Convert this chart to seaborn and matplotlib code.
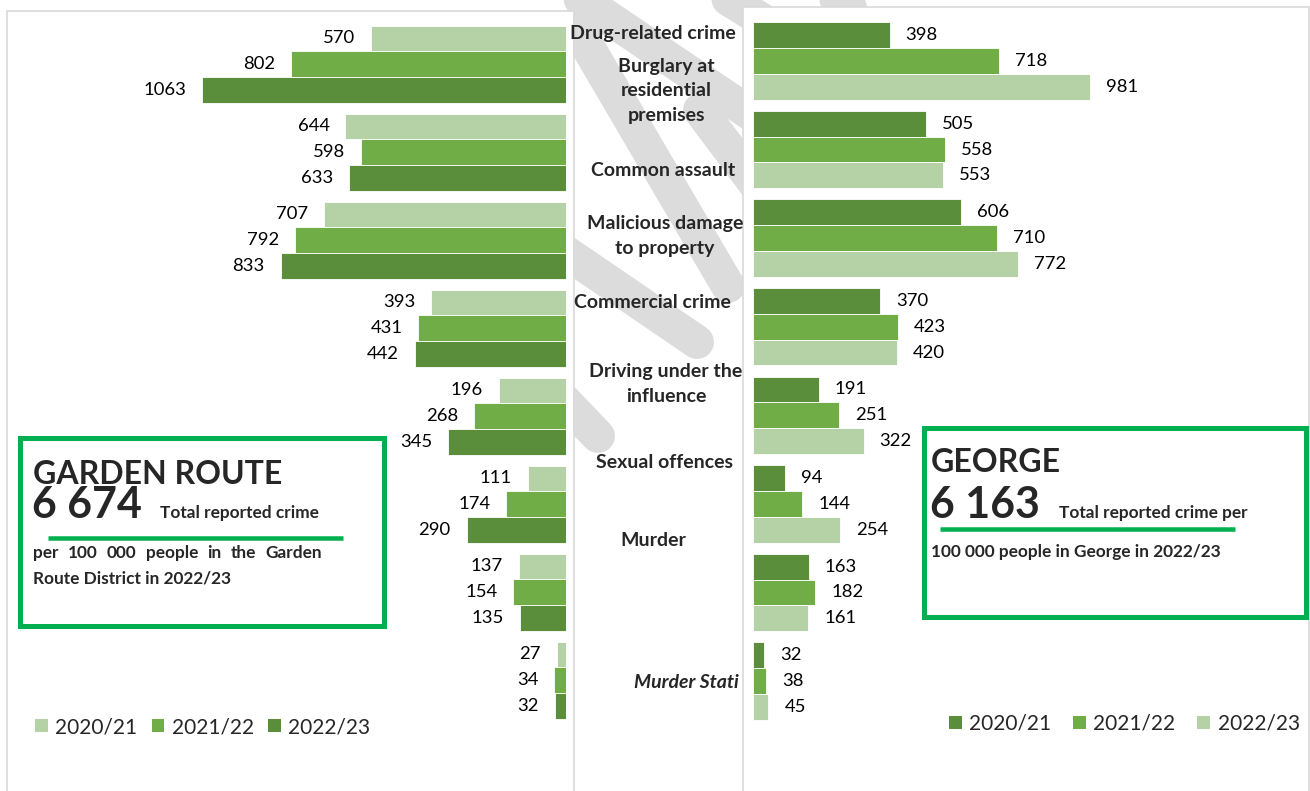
import numpy as np
import pandas as pd
import matplotlib
matplotlib.use("Agg")
import matplotlib.pyplot as plt
import seaborn as sns
from matplotlib.patches import Rectangle, Patch
from matplotlib.lines import Line2D

# ---------------- data ----------------
categories = ["Drug-related crime", "Burglary at residential premises", "Common assault",
              "Malicious damage to property", "Commercial crime", "Driving under the influence",
              "Sexual offences", "Murder"]
years = ["2020/21", "2021/22", "2022/23"]
garden_2020 = [570, 644, 707, 393, 196, 111, 137, 27]
garden_2021 = [802, 598, 792, 431, 268, 174, 154, 34]
garden_2022 = [1063, 633, 833, 442, 345, 290, 135, 32]
george_2020 = [398, 505, 606, 370, 191, 94, 163, 32]
george_2021 = [718, 558, 710, 423, 251, 144, 182, 38]
george_2022 = [981, 553, 772, 420, 322, 254, 161, 45]
axis_labels = ["Drug-related crime", "Burglary at\nresidential\npremises", "Common assault",
               "Malicious damage\nto property", "Commercial crime", "Driving under the\ninfluence",
               "Sexual offences", "Murder", "Murder Stati"]
garden_total = "6 674"
george_total = "6 163"

# ---------------- style ----------------
sns.set_theme(style="white")
plt.rcParams["font.family"] = ["Lato", "DejaVu Sans"]

W, H = 1310, 791
DARK, MID, LIGHT = "#5B8E3A", "#70AD47", "#B5D1A6"
GREEN = "#00B050"
GREY = "#D9D9D9"
WM = "#DCDCDC"

def fx(x):
    return x / W

def fy(y):
    return 1 - y / H

fig = plt.figure(figsize=(W / 100, H / 100), dpi=100)
fig.patch.set_facecolor("white")

# ---------------- watermark (behind panels) ----------------
wm_segments = [((545, -25), (760, 120)), ((575, 25), (728, 286)), ((530, 228), (697, 342)),
               ((530, 365), (598, 436)), ((690, -25), (770, 25)), ((800, -25), (850, 8)),
               ((700, 110), (760, 190))]
for (x0, y0), (x1, y1) in wm_segments:
    fig.add_artist(Line2D([fx(x0), fx(x1)], [fy(y0), fy(y1)], transform=fig.transFigure,
                          color=WM, lw=34 * 0.72, solid_capstyle="round", zorder=-3))

# ---------------- panels ----------------
for (x0, y0, x1) in [(6.5, 11, 573.5), (742.5, 7, 1309)]:
    fig.add_artist(Rectangle((fx(x0), fy(820)), fx(x1) - fx(x0), (820 - y0) / H,
                             transform=fig.transFigure, facecolor="white",
                             edgecolor=GREY, lw=1.2, zorder=-1))

def long_df(a, b, c):
    rows = []
    for yr, vals in zip(years, [a, b, c]):
        for cat, v in zip(categories, vals):
            rows.append({"category": cat, "year": yr, "value": v})
    return pd.DataFrame(rows)

PXU_L = 0.3424
PXU_R = 0.3432

# left axes: bars grow to the left, zero at x=566
axL_top, axL_bot = 64 - 44, 64 + 88 * 7 + 44
axL = fig.add_axes([fx(16), fy(axL_bot), fx(566) - fx(16), (axL_bot - axL_top) / H])
sns.barplot(data=long_df(garden_2020, garden_2021, garden_2022), y="category", x="value",
            hue="year", hue_order=years, order=categories, palette=[LIGHT, MID, DARK],
            orient="h", width=0.875, saturation=1, edgecolor="white", linewidth=0.6,
            legend=False, ax=axL)
axL.set_xlim(550 / PXU_L, 0)
axL.set_ylim(7.5, -0.5)

# right axes: zero at x=753
axR_top, axR_bot = 61 - 44.3, 61 + 88.57 * 7.5
axR = fig.add_axes([fx(753), fy(axR_bot), fx(1300) - fx(753), (axR_bot - axR_top) / H])
sns.barplot(data=long_df(george_2020, george_2021, george_2022), y="category", x="value",
            hue="year", hue_order=years, order=categories, palette=[DARK, MID, LIGHT],
            orient="h", width=0.875, saturation=1, edgecolor="white", linewidth=0.6,
            legend=False, ax=axR)
axR.set_xlim(0, 547 / PXU_R)
axR.set_ylim(7.5, -0.5)

for ax, sign, ha in [(axL, -1, "right"), (axR, 1, "left")]:
    ax.set_axis_off()
    for cont in ax.containers:
        for rect, val in zip(cont.patches, cont.datavalues):
            ax.annotate(f"{val:.0f}", xy=(rect.get_x() + rect.get_width(),
                                          rect.get_y() + rect.get_height() / 2),
                        xytext=(sign * 11.5, 0), textcoords="offset points",
                        ha=ha, va="center", fontsize=13.3, color="black")

# ---------------- category labels in the middle ----------------
label_pos = [(653, 33), (666, 91), (663, 170), (665, 236), (652, 303), (666, 384),
             (665, 462), (653, 540), (686, 682)]
for i, (txt, (x, y)) in enumerate(zip(axis_labels, label_pos)):
    fig.text(fx(x), fy(y), txt, ha="center", va="center", multialignment="center",
             fontsize=14, fontweight="bold", linespacing=1.55,
             fontstyle="italic" if i == len(axis_labels) - 1 else "normal")

# ---------------- legends ----------------
def legend(colors, x, y, colsp):
    handles = [Patch(facecolor=c, edgecolor="none") for c in colors]
    fig.legend(handles, years, loc="center left", bbox_to_anchor=(fx(x), fy(y)),
               ncol=3, frameon=False, fontsize=15, handlelength=0.62, handleheight=0.62,
               handletextpad=0.35, columnspacing=colsp, borderpad=0, borderaxespad=0)

legend([LIGHT, MID, DARK], 35, 727, 0.68)
legend([DARK, MID, LIGHT], 949, 724, 1.05)

# ---------------- info boxes ----------------
def box(x0, y0, x1, y1):
    fig.add_artist(Rectangle((fx(x0), fy(y1)), fx(x1) - fx(x0), (y1 - y0) / H,
                             transform=fig.transFigure, fill=False, edgecolor=GREEN,
                             lw=5 * 0.72, zorder=3))

def hline(x0, x1, y):
    fig.add_artist(Line2D([fx(x0), fx(x1)], [fy(y), fy(y)], transform=fig.transFigure,
                          color=GREEN, lw=4.5 * 0.72, solid_capstyle="butt", zorder=3))

renderer = fig.canvas.get_renderer()

def justified(words, x0, x1, y, **kw):
    texts = [fig.text(0, 0, w, ha="left", va="baseline", **kw) for w in words]
    widths = [t.get_window_extent(renderer).width for t in texts]
    gap = (x1 - x0 - sum(widths)) / (len(words) - 1)
    x = x0
    for t, w in zip(texts, widths):
        t.set_position((fx(x), fy(y)))
        x += w + gap

SMALL = 12.4

# Garden Route
box(19.5, 437.5, 384.5, 625.5)
fig.text(fx(33), fy(484), "GARDEN ROUTE", fontsize=23, fontweight="bold", va="baseline")
fig.text(fx(32), fy(518), garden_total, fontsize=31, fontweight="bold", va="baseline")
fig.text(fx(160), fy(518), "Total reported crime", fontsize=SMALL, fontweight="bold",
         va="baseline")
hline(48, 343, 538)
justified("per 100 000 people in the Garden".split(), 33, 322, 558,
          fontsize=SMALL, fontweight="bold")
fig.text(fx(33), fy(583), "Route District in 2022/23", fontsize=SMALL, fontweight="bold",
         va="baseline")

# George
box(923.5, 427.5, 1306, 616.5)
fig.text(fx(931), fy(472), "GEORGE", fontsize=23, fontweight="bold", va="baseline")
fig.text(fx(930), fy(518), george_total, fontsize=31, fontweight="bold", va="baseline")
fig.text(fx(1059), fy(518), "Total reported crime per", fontsize=SMALL, fontweight="bold",
         va="baseline")
hline(940, 1235, 529)
fig.text(fx(931), fy(557), "100 000 people in George in 2022/23", fontsize=SMALL,
         fontweight="bold", va="baseline")

fig.savefig("out.png", dpi=100, facecolor="white")
